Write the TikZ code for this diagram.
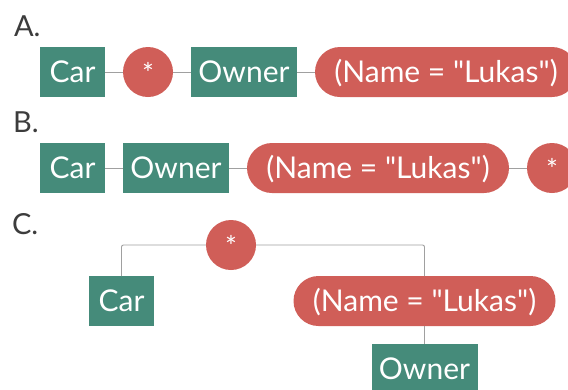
\documentclass[tikz,border=0pt]{standalone}
\usepackage{fontspec}
\setmainfont{Lato}[Ligatures=TeXOff]
\definecolor{boxgreen}{RGB}{69,139,122}
\definecolor{pillred}{RGB}{208,94,88}
\definecolor{wire}{RGB}{160,160,160}
\definecolor{labelgray}{RGB}{60,60,60}
\begin{document}
\begin{tikzpicture}[x=1bp,y=-1bp,
  every node/.style={inner sep=0pt, outer sep=0pt},
  entity/.style={rectangle, fill=boxgreen, text=white, minimum height=50bp,
    font=\fontsize{30bp}{32bp}\selectfont, text height=21.5bp, text depth=0pt},
  filterpill/.style={rectangle, rounded corners=25bp, fill=pillred, text=white,
    minimum width=262bp, minimum height=50bp,
    font=\fontsize{30bp}{32bp}\selectfont, text height=21.5bp, text depth=0pt},
  joinop/.style={circle, fill=pillred, text=white, minimum size=50bp,
    font=\fontsize{28bp}{30bp}\selectfont, text height=22.5bp, text depth=0pt},
  steplabel/.style={anchor=base west, text=labelgray, font=\fontsize{29bp}{31bp}\selectfont},
  wireline/.style={draw=wire, line width=0.9bp}]
\clip (0,0) rectangle (568,389);
\useasboundingbox (0,0) rectangle (568,389);

% A: Car * Owner (Name = "Lukas")
\node[steplabel] (labA) at (14,36) {A.};
\node[entity, minimum width=65bp] (carA) at (72.5,72) {Car};
\node[joinop] (starA) at (148,72) {*};
\node[entity, minimum width=106bp] (ownA) at (244,72) {Owner};
\node[filterpill] (nameA) at (446,72) {(Name = "Lukas")};
\draw[wireline] (carA) -- (starA) -- (ownA) -- (nameA);

% B: Car Owner (Name = "Lukas") *
\node[steplabel] (labB) at (13,132) {B.};
\node[entity, minimum width=65bp] (carB) at (72.5,168) {Car};
\node[entity, minimum width=106bp] (ownB) at (176,168) {Owner};
\node[filterpill] (nameB) at (378,168) {(Name = "Lukas")};
\node[joinop] (starB) at (552,168) {*};
\draw[wireline] (carB) -- (ownB) -- (nameB) -- (starB);

% C: tree with * at the root
\node[steplabel] (labC) at (12,234) {C.};
\node[joinop] (starC) at (231,245) {*};
\node[entity, minimum width=65bp] (carC) at (121.5,301) {Car};
\node[filterpill] (nameC) at (424.5,301) {(Name = "Lukas")};
\node[entity, minimum width=106bp] (ownC) at (424.5,369) {Owner};
\draw[wireline, rounded corners=2bp] (starC.west) -| (carC.north);
\draw[wireline, rounded corners=2bp] (starC.east) -| (nameC.north);
\draw[wireline] (nameC.south) -- (ownC.north);
\end{tikzpicture}
\end{document}
